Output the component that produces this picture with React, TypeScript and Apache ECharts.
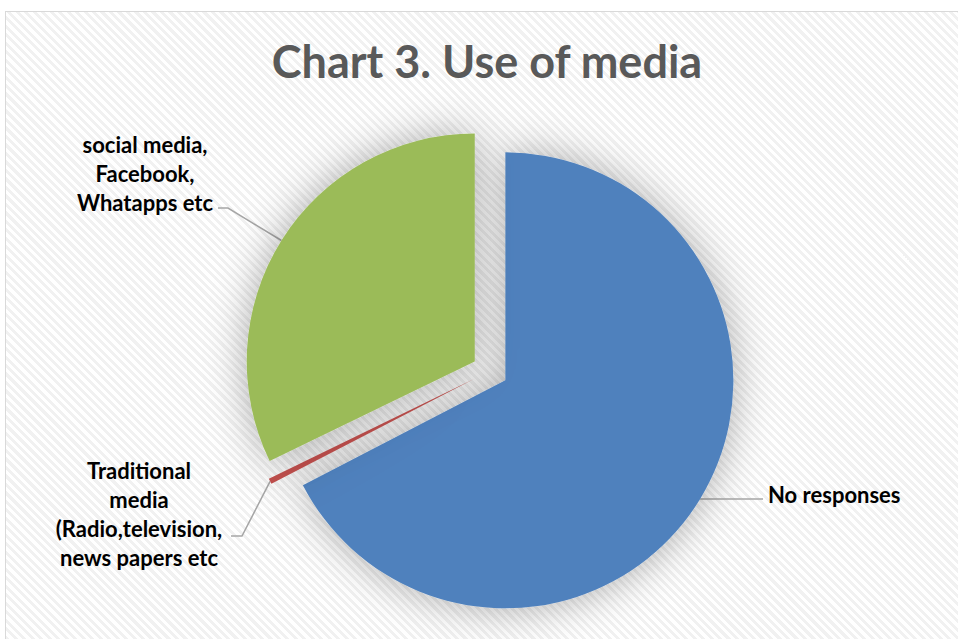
import React, { useEffect, useRef } from 'react';
import * as echarts from 'echarts';

const titleText = 'Chart 3. Use of media';
const categories = [
  'No responses',
  'Traditional media (Radio,television, news papers etc',
  'social media, Facebook, Whatapps etc',
];
const labelTexts = [
  'No responses',
  'Traditional\nmedia\n(Radio,television,\nnews papers etc',
  'social media,\nFacebook,\nWhatapps etc',
];
const values = [67.4, 0.4, 32.2];
const colors = ['#4f81bd', '#c0504d', '#9bbb59'];

const EXPLODE = 18;
const CENTER = [490, 371];
const RADIUS = 228;

// label placement (style only)
const labelPlaces = [
  { x: 768, y: 494, align: 'left', elbow: [763, 499], end: [763, 499] },
  { x: 139, y: 514, align: 'center', elbow: [242, 536], end: [231, 536] },
  { x: 145, y: 173, align: 'center', elbow: [228, 208], end: [218, 208] },
];

function explodeShift(i: number) {
  const total = values.reduce((a, b) => a + b, 0);
  let cum = 0;
  for (let k = 0; k < i; k++) cum += values[k];
  const theta = (2 * Math.PI * (cum + values[i] / 2)) / total;
  return [EXPLODE * Math.sin(theta), -EXPLODE * Math.cos(theta)];
}

export default function App() {
  const ref = useRef<HTMLDivElement>(null);
  useEffect(() => {
    if (!ref.current) return;
    const chart = echarts.init(ref.current, undefined, { renderer: 'svg' });
    const labelFont = {
      fontFamily: 'Lato',
      fontWeight: 'bold',
      fontSize: 22,
      lineHeight: 29,
      color: '#000',
    };
    chart.setOption({
      animation: false,
      graphic: [
        {
          type: 'text',
          x: 487,
          y: 61,
          style: {
            text: titleText,
            x: 0,
            y: 0,
            align: 'center',
            verticalAlign: 'middle',
            fill: '#595959',
            font: 'bold 45px Lato',
          },
        },
      ],
      series: [
        {
          type: 'pie',
          center: CENTER,
          radius: RADIUS,
          startAngle: 90,
          clockwise: true,
          selectedMode: 'multiple',
          selectedOffset: EXPLODE,
          silent: true,
          emphasis: { disabled: true },
          itemStyle: {
            shadowBlur: 40,
            shadowColor: 'rgba(0,0,0,0.32)',
          },
          label: { show: false },
          labelLine: { show: false },
          data: categories.map((name, i) => ({
            name,
            value: values[i],
            selected: true,
            itemStyle: { color: colors[i] },
          })),
        },
        {
          type: 'pie',
          center: CENTER,
          radius: RADIUS,
          startAngle: 90,
          clockwise: true,
          silent: true,
          avoidLabelOverlap: false,
          emphasis: { disabled: true },
          itemStyle: { color: 'rgba(0,0,0,0)' },
          label: {
            show: true,
            position: 'outside',
            formatter: (p: any) => labelTexts[p.dataIndex],
            ...labelFont,
          },
          labelLine: {
            show: true,
            lineStyle: { color: '#a6a6a6', width: 1.5 },
          },
          labelLayout: (params: any) => {
            const lp = labelPlaces[params.dataIndex];
            const pts = params.labelLinePoints;
            const s = explodeShift(params.dataIndex);
            const p0 = pts ? [pts[0][0] + s[0], pts[0][1] + s[1]] : lp.elbow;
            return {
              x: lp.x,
              y: lp.y,
              align: lp.align,
              verticalAlign: 'middle',
              labelLinePoints: [p0, lp.elbow, lp.end],
            };
          },
          data: categories.map((name, i) => ({ name, value: values[i] })),
        },
      ],
    });
    return () => chart.dispose();
  }, []);
  return (
    <div style={{ position: 'fixed', left: 0, top: 0, width: 958, height: 639, background: '#fff', overflow: 'hidden' }}>
      <div
        style={{
          position: 'absolute',
          left: 5,
          top: 11,
          width: 960,
          height: 640,
          border: '1px solid #d9d9d9',
          background: 'repeating-linear-gradient(45deg, #ffffff 0px, #ffffff 3px, #f1f1f1 3px, #f1f1f1 6px)',
        }}
      />
      <div ref={ref} style={{ position: 'absolute', left: 0, top: 0, width: 958, height: 639 }} />
    </div>
  );
}
